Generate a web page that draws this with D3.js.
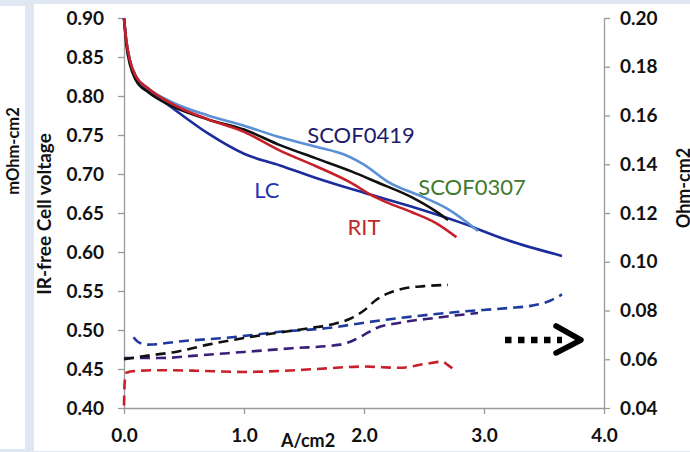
<!DOCTYPE html>
<html><head><meta charset="utf-8">
<script src="https://cdn.jsdelivr.net/npm/d3@7"></script>
<style>body{margin:0;background:#fff}svg{display:block}</style>
</head><body>
<svg id="c" width="690" height="452"></svg>
<script>
// ---- data ----
const xTickValues = [0, 1, 2, 3, 4];
const yLeftTickValues = [0.40,0.45,0.50,0.55,0.60,0.65,0.70,0.75,0.80,0.85,0.90];
const yRightTickValues = [0.04,0.06,0.08,0.10,0.12,0.14,0.16,0.18,0.20];

// polarization curves (A/cm2, IR-free V)
const lcX   = [0, 0.02, 0.05, 0.1, 0.2, 0.4, 0.7, 1.0, 1.3, 1.6, 2.0, 2.4, 2.8, 3.2, 3.65];
const lcV   = [0.90, 0.87, 0.845, 0.825, 0.808, 0.785, 0.752, 0.726, 0.711, 0.695, 0.676, 0.658, 0.638, 0.615, 0.595];
const s0419X = [0, 0.02, 0.05, 0.1, 0.2, 0.4, 0.7, 1.0, 1.3, 1.6, 1.85, 2.0, 2.2, 2.5, 2.7, 2.95];
const s0419V = [0.90, 0.87, 0.845, 0.825, 0.81, 0.792, 0.775, 0.762, 0.747, 0.735, 0.724, 0.712, 0.69, 0.67, 0.655, 0.627];
const s0307X = [0, 0.02, 0.05, 0.1, 0.2, 0.4, 0.7, 1.0, 1.3, 1.6, 1.9, 2.1, 2.4, 2.6, 2.7];
const s0307V = [0.90, 0.865, 0.84, 0.82, 0.805, 0.787, 0.77, 0.757, 0.737, 0.72, 0.703, 0.69, 0.67, 0.652, 0.641];
const ritX  = [0, 0.02, 0.05, 0.1, 0.2, 0.4, 0.7, 1.0, 1.3, 1.6, 1.9, 2.05, 2.2, 2.4, 2.6, 2.77];
const ritV  = [0.90, 0.87, 0.845, 0.825, 0.81, 0.79, 0.77, 0.754, 0.73, 0.71, 0.688, 0.674, 0.663, 0.651, 0.637, 0.619];

// HFR curves (A/cm2, Ohm-cm2)
const lcHX   = [0.08, 0.12, 0.2, 0.5, 0.9, 1.3, 1.7, 2.0, 2.4, 2.8, 3.2, 3.4, 3.55, 3.65];
const lcHR   = [0.069, 0.067, 0.066, 0.0675, 0.069, 0.0713, 0.0728, 0.075, 0.0775, 0.0795, 0.081, 0.082, 0.084, 0.0866];
const s0419HX = [0, 0.3, 0.6, 1.0, 1.4, 1.8, 1.9, 2.0, 2.1, 2.3, 2.6, 2.95];
const s0419HR = [0.0605, 0.0605, 0.0615, 0.063, 0.0645, 0.066, 0.0675, 0.070, 0.0727, 0.075, 0.077, 0.079];
const s0307HX = [0, 0.2, 0.44, 0.7, 1.0, 1.3, 1.55, 1.75, 1.9, 2.0, 2.1, 2.2, 2.35, 2.5, 2.7];
const s0307HR = [0.060, 0.0615, 0.0631, 0.066, 0.0687, 0.071, 0.0728, 0.0745, 0.077, 0.080, 0.0843, 0.087, 0.0892, 0.090, 0.0905];
const ritHX  = [0, 0.005, 0.02, 0.1, 0.3, 0.6, 1.0, 1.3, 1.6, 2.0, 2.3, 2.5, 2.65, 2.7, 2.77];
const ritHR  = [0.041, 0.050, 0.0545, 0.0552, 0.0555, 0.0553, 0.0548, 0.0552, 0.056, 0.057, 0.0565, 0.058, 0.059, 0.0576, 0.0549];

const labels = [
  {text: "SCOF0419", x: 1.975, v: 0.740, color: "#1e1a6c"},
  {text: "LC", x: 1.19, v: 0.669, color: "#1f33b4"},
  {text: "SCOF0307", x: 2.90, v: 0.673, color: "#3f7a2c"},
  {text: "RIT", x: 2.0, v: 0.622, color: "#c0282d"}
];

// ---- drawing ----
const svg = d3.select("#c");
svg.append("rect").attr("width",690).attr("height",452).attr("fill","#dfe7f3");
svg.append("rect").attr("x",0).attr("y",6).attr("width",25).attr("height",443).attr("fill","#fff");
svg.append("rect").attr("x",34).attr("y",4).attr("width",656).attr("height",447).attr("fill","#fff");

const L = 124, R = 604, T = 18, B = 408;
const x = d3.scaleLinear().domain([0,4]).range([L,R]);
const yL = d3.scaleLinear().domain([0.40,0.90]).range([B,T]);
const yR = d3.scaleLinear().domain([0.04,0.20]).range([B,T]);

const axisColor = "#9a9a9a";
const tickFont = "Lato, 'Liberation Sans', sans-serif";

function styleAxis(g){
  g.selectAll("path,line").attr("stroke",axisColor).attr("stroke-width",1.3);
  g.selectAll("text").attr("font-family",tickFont).attr("font-weight","bold")
   .attr("font-size","19px").attr("fill","#111");
}

svg.append("g").attr("transform",`translate(0,${B})`)
  .call(d3.axisBottom(x).tickValues(xTickValues).tickSize(6).tickSizeOuter(0).tickPadding(15).tickFormat(d3.format(".1f")))
  .call(styleAxis);
svg.append("g").attr("transform",`translate(${L},0)`)
  .call(d3.axisLeft(yL).tickValues(yLeftTickValues).tickSize(6).tickSizeOuter(0).tickPadding(14).tickFormat(d3.format(".2f")))
  .call(styleAxis);
svg.append("g").attr("transform",`translate(${R},0)`)
  .call(d3.axisRight(yR).tickValues(yRightTickValues).tickSize(6).tickSizeOuter(0).tickPadding(10).tickFormat(d3.format(".2f")))
  .call(styleAxis);

const zip = (xs, ys) => xs.map((d,i)=>[d, ys[i]]);
const lineL = d3.line().x(d=>x(d[0])).y(d=>yL(d[1])).curve(d3.curveMonotoneX);
const lineR = d3.line().x(d=>x(d[0])).y(d=>yR(d[1])).curve(d3.curveMonotoneX);

const dashed = [
  {xs: lcHX, ys: lcHR, color: "#1f3a9e"},
  {xs: s0419HX, ys: s0419HR, color: "#3a1f78"},
  {xs: s0307HX, ys: s0307HR, color: "#111"},
  {xs: ritHX, ys: ritHR, color: "#c8202a"}
];
dashed.forEach(s=>{
  svg.append("path").attr("d", lineR(zip(s.xs, s.ys))).attr("fill","none")
    .attr("stroke", s.color).attr("stroke-width",2.6).attr("stroke-dasharray","10,6");
});

const solid = [
  {xs: lcX, ys: lcV, color: "#1b2d9c"},
  {xs: s0419X, ys: s0419V, color: "#5b8fd6"},
  {xs: s0307X, ys: s0307V, color: "#111"},
  {xs: ritX, ys: ritV, color: "#c8202a"}
];
solid.forEach(s=>{
  svg.append("path").attr("d", lineL(zip(s.xs, s.ys))).attr("fill","none")
    .attr("stroke", s.color).attr("stroke-width",2.6);
});

labels.forEach(l=>{
  svg.append("text").attr("x", x(l.x)).attr("y", yL(l.v)).attr("text-anchor","middle")
    .attr("font-family","Lato, sans-serif").attr("font-size","22px").attr("fill",l.color).text(l.text);
});

// arrow (dotted line + chevron)
svg.append("line").attr("x1",505).attr("x2",562).attr("y1",340).attr("y2",340)
  .attr("stroke","#000").attr("stroke-width",6.5).attr("stroke-dasharray","6.5,6.5");
svg.append("path").attr("d","M556,326 L581,340 L556,353").attr("fill","none")
  .attr("stroke","#000").attr("stroke-width",5.5).attr("stroke-linecap","round").attr("stroke-linejoin","round");

// axis titles
const titleFont = "Lato, sans-serif";
svg.append("text").attr("transform","translate(51,214) rotate(-90)").attr("text-anchor","middle")
  .attr("font-family",titleFont).attr("font-weight","bold").attr("font-size","19px").attr("fill","#111").text("IR-free Cell voltage");
svg.append("text").attr("transform","translate(19,151) rotate(-90)").attr("text-anchor","middle")
  .attr("font-family",titleFont).attr("font-weight","bold").attr("font-size","16.5px").attr("fill","#111").text("mOhm-cm2");
svg.append("text").attr("transform","translate(690,188) rotate(-90)").attr("text-anchor","middle")
  .attr("font-family",titleFont).attr("font-weight","bold").attr("font-size","18px").attr("fill","#111").text("Ohm-cm2");
svg.append("text").attr("x",308).attr("y",447).attr("text-anchor","middle")
  .attr("font-family",titleFont).attr("font-weight","bold").attr("font-size","18px").attr("fill","#111").text("A/cm2");
</script>
</body></html>
